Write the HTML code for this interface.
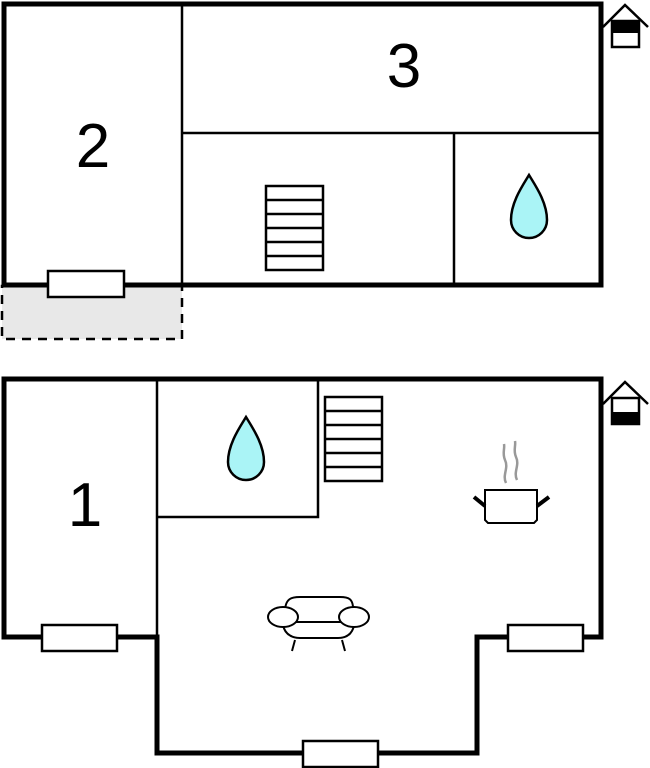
<!DOCTYPE html>
<html><head><meta charset="utf-8"><style>html,body{margin:0;padding:0;background:#fff;width:650px;height:768px;overflow:hidden}</style></head>
<body>
<svg width="650" height="768" viewBox="0 0 650 768" xmlns="http://www.w3.org/2000/svg">
<defs>
<g id="stairs">
<rect x="0" y="0" width="57" height="84" fill="#fff" stroke="#000" stroke-width="2.5"/>
<line x1="0" y1="14" x2="57" y2="14" stroke="#000" stroke-width="2.5"/>
<line x1="0" y1="28" x2="57" y2="28" stroke="#000" stroke-width="2.5"/>
<line x1="0" y1="42" x2="57" y2="42" stroke="#000" stroke-width="2.5"/>
<line x1="0" y1="56" x2="57" y2="56" stroke="#000" stroke-width="2.5"/>
<line x1="0" y1="70" x2="57" y2="70" stroke="#000" stroke-width="2.5"/>
</g>
<path id="drop" d="M0,-45 C-6,-35 -18,-18 -18,0 A18,18 0 0 0 18,0 C18,-18 6,-35 0,-45 Z" fill="#aaf4f6" stroke="#000" stroke-width="2.5"/>
</defs>
<rect x="2" y="286" width="180" height="53" fill="#e8e8e8" stroke="#000" stroke-width="2.5" stroke-dasharray="9,7"/>
<rect x="4" y="4" width="597" height="281" fill="#fff" stroke="#000" stroke-width="5"/>
<line x1="182" y1="4" x2="182" y2="285" stroke="#000" stroke-width="2.5"/>
<line x1="182" y1="133" x2="601" y2="133" stroke="#000" stroke-width="2.5"/>
<line x1="454" y1="133" x2="454" y2="285" stroke="#000" stroke-width="2.5"/>
<rect x="48" y="271" width="76" height="26" fill="#fff" stroke="#000" stroke-width="2.5"/>
<use href="#stairs" x="266" y="186"/>
<use href="#drop" x="529" y="220"/>
<text x="93" y="167" font-family="Liberation Sans, sans-serif" font-size="62" text-anchor="middle">2</text>
<text x="404" y="87" font-family="Liberation Sans, sans-serif" font-size="62" text-anchor="middle">3</text>
<polyline points="603,27 625,5 648,27" fill="none" stroke="#000" stroke-width="2.5"/>
<rect x="612" y="21" width="27" height="26" fill="#fff" stroke="#000" stroke-width="2.5"/>
<rect x="612" y="21" width="27" height="12" fill="#000"/>
<path d="M4,379 H601 V637 H477 V753 H157 V637 H4 Z" fill="#fff" stroke="#000" stroke-width="5"/>
<line x1="157" y1="379" x2="157" y2="637" stroke="#000" stroke-width="2.5"/>
<polyline points="157,517 318,517 318,379" fill="none" stroke="#000" stroke-width="2.5"/>
<rect x="42" y="625" width="75" height="26" fill="#fff" stroke="#000" stroke-width="2.5"/>
<rect x="508" y="625" width="75" height="26" fill="#fff" stroke="#000" stroke-width="2.5"/>
<rect x="303" y="741" width="75" height="26" fill="#fff" stroke="#000" stroke-width="2.5"/>
<use href="#stairs" x="325" y="397"/>
<use href="#drop" x="246" y="462"/>
<text x="85" y="526" font-family="Liberation Sans, sans-serif" font-size="62" text-anchor="middle">1</text>
<path d="M506,483 C502,475 509,468 505,460 C502,453 505,449 504,444" fill="none" stroke="#999" stroke-width="2.5"/>
<path d="M517,480 C513,472 520,465 516,457 C513,450 516,446 515,441" fill="none" stroke="#999" stroke-width="2.5"/>
<path d="M485,490 H537 V520 L534,523 H488 L485,520 Z" fill="#fff" stroke="#000" stroke-width="2"/>
<line x1="474" y1="497" x2="485" y2="506" stroke="#000" stroke-width="4"/>
<line x1="537" y1="506" x2="549" y2="497" stroke="#000" stroke-width="4"/>
<path d="M285,612 C285,598 292,597 300,597 H340 C348,597 354,598 353,612" fill="#fff" stroke="#000" stroke-width="2"/>
<path d="M283,620 C282,632 290,638 300,638 H338 C348,638 355,632 354,620" fill="#fff" stroke="#000" stroke-width="2"/>
<line x1="292" y1="622" x2="346" y2="622" stroke="#000" stroke-width="2"/>
<ellipse cx="283" cy="617" rx="15" ry="10" fill="#fff" stroke="#000" stroke-width="2"/>
<ellipse cx="354" cy="617" rx="15" ry="10" fill="#fff" stroke="#000" stroke-width="2"/>
<line x1="295" y1="640" x2="292" y2="651" stroke="#000" stroke-width="2"/>
<line x1="342" y1="640" x2="345" y2="651" stroke="#000" stroke-width="2"/>
<polyline points="603,404 625,382 648,404" fill="none" stroke="#000" stroke-width="2.5"/>
<rect x="612" y="398" width="27" height="26" fill="#fff" stroke="#000" stroke-width="2.5"/>
<rect x="612" y="412" width="27" height="13" fill="#000"/>
</svg>
</body></html>
